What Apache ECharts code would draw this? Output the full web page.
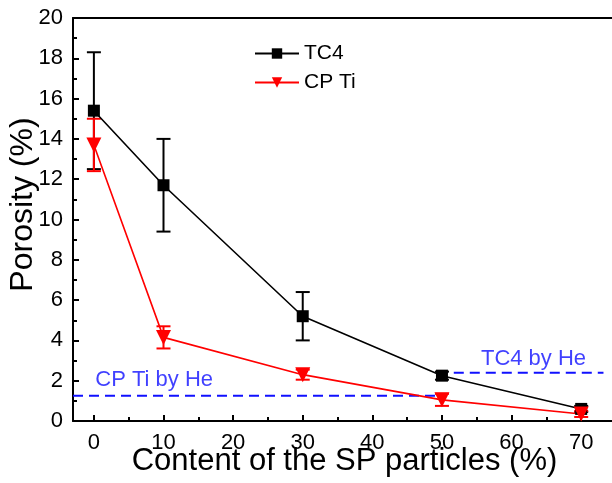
<!DOCTYPE html>
<html><head><meta charset="utf-8">
<script src="https://cdn.jsdelivr.net/npm/echarts@6/dist/echarts.min.js"></script>
<style>html,body{margin:0;padding:0;background:#fff}#c{width:612px;height:483px}</style>
</head><body><div id="c"></div>
<script>
var contents = [0, 10, 30, 50, 70];
var tc4 = [15.4, 11.7, 5.2, 2.25, 0.6];
var tc4Err = [2.9, 2.3, 1.2, 0.2, 0.15];
var cpTi = [13.7, 4.15, 2.3, 1.05, 0.35];
var cpTiErr = [1.3, 0.55, 0.25, 0.3, 0.15];
var xTicks = [0, 10, 20, 30, 40, 50, 60, 70];
var xMinorTicks = [5, 15, 25, 35, 45, 55, 65];
var cpHeLevel = 1.25, tc4HeLevel = 2.4;
var cpHeSpan = [-3, 49.4], tc4HeSpan = [49.4, 73.2];
var notes = [
  {name: 'CP Ti by He', value: [0.2, 2.05]},
  {name: 'TC4 by He', value: [55.6, 3.1]}
];

var FONT = 'Liberation Sans, Arial, sans-serif';
function pairs(xs, ys){ return xs.map(function(x,i){ return [x, ys[i]]; }); }
function errData(xs, ys, es){ return xs.map(function(x,i){ return [x, ys[i]-es[i], ys[i]+es[i]]; }); }
function errSeries(data, color, capW){
  return {
    type: 'custom', xAxisIndex: 0, yAxisIndex: 0, silent: true,
    data: data, encode: {x: 0, y: [1, 2]},
    renderItem: function(params, api){
      var x = api.value(0);
      var top = api.coord([x, api.value(2)]);
      var bot = api.coord([x, api.value(1)]);
      var st = {stroke: color, lineWidth: 2};
      return {type: 'group', children: [
        {type: 'line', shape: {x1: top[0], y1: top[1], x2: bot[0], y2: bot[1]}, style: st},
        {type: 'line', shape: {x1: top[0]-capW, y1: top[1], x2: top[0]+capW, y2: top[1]}, style: st},
        {type: 'line', shape: {x1: bot[0]-capW, y1: bot[1], x2: bot[0]+capW, y2: bot[1]}, style: st}
      ]};
    }
  };
}

var chart = echarts.init(document.getElementById('c'), null, {renderer: 'canvas'});
chart.setOption({
  animation: false,
  textStyle: {fontFamily: FONT},
  grid: {left: 73, top: 18, width: 543, height: 403, containLabel: false, outerBoundsMode: 'none'},
  legend: {
    data: ['TC4', 'CP Ti'], orient: 'vertical', left: 249, top: 38,
    itemWidth: 44, itemHeight: 13, itemGap: 8,
    textStyle: {fontSize: 21, color: '#000', fontFamily: FONT}
  },
  xAxis: [
    {
      type: 'value', min: -3, max: 75, position: 'bottom',
      name: 'Content of the SP particles (%)', nameLocation: 'middle', nameGap: 25,
      nameMoveOverlap: false,
      nameTextStyle: {fontSize: 31, color: '#000', fontFamily: FONT},
      axisLine: {onZero: false, lineStyle: {color: '#000', width: 2}},
      axisTick: {inside: true, length: 6, customValues: xTicks, lineStyle: {color: '#000', width: 2}},
      axisLabel: {customValues: xTicks, fontSize: 22, color: '#000', margin: 11, fontFamily: FONT},
      splitLine: {show: false}
    },
    {
      type: 'value', min: -3, max: 75, position: 'bottom',
      axisLine: {show: false, onZero: false},
      axisTick: {inside: true, length: 4, customValues: xMinorTicks, lineStyle: {color: '#000', width: 2}},
      axisLabel: {show: false}, splitLine: {show: false}
    },
    {
      type: 'value', min: -3, max: 75, position: 'top',
      axisLine: {onZero: false, lineStyle: {color: '#000', width: 2}},
      axisTick: {show: false}, axisLabel: {show: false}, splitLine: {show: false}
    }
  ],
  yAxis: {
    type: 'value', min: 0, max: 20, interval: 2,
    name: 'Porosity (%)', nameLocation: 'middle', nameGap: 34,
    nameMoveOverlap: false,
    nameTextStyle: {fontSize: 32, color: '#000', fontFamily: FONT, padding: [0, 0, 0, 30]},
    axisLine: {onZero: false, lineStyle: {color: '#000', width: 2}},
    axisTick: {inside: true, length: 6, lineStyle: {color: '#000', width: 2}},
    minorTick: {show: true, splitNumber: 2, length: 4, lineStyle: {color: '#000', width: 2}},
    axisLabel: {fontSize: 22, color: '#000', margin: 10, fontFamily: FONT},
    splitLine: {show: false}
  },
  series: [
    {
      name: 'CP Ti by He', type: 'line', silent: true, symbol: 'none',
      data: [[cpHeSpan[0], cpHeLevel], [cpHeSpan[1], cpHeLevel]],
      lineStyle: {color: '#1010ff', width: 2, type: [10, 6]}
    },
    {
      name: 'TC4 by He', type: 'line', silent: true, symbol: 'none',
      data: [[tc4HeSpan[0], tc4HeLevel], [tc4HeSpan[1], tc4HeLevel]],
      lineStyle: {color: '#1010ff', width: 2, type: [10, 6]}
    },
    {
      type: 'scatter', silent: true, symbolSize: 0, data: notes,
      label: {show: true, position: 'right', distance: 0, formatter: '{b}', fontSize: 22, color: '#1010ff', fontFamily: FONT}
    },
    errSeries(errData(contents, tc4, tc4Err), '#000', 7),
    {
      name: 'TC4', type: 'line', data: pairs(contents, tc4),
      symbol: 'rect', symbolSize: 12,
      lineStyle: {color: '#000', width: 1.6}, itemStyle: {color: '#000'}
    },
    errSeries(errData(contents, cpTi, cpTiErr), '#ff0000', 7),
    {
      name: 'CP Ti', type: 'line', data: pairs(contents, cpTi),
      symbol: 'triangle', symbolRotate: 180, symbolSize: 15,
      lineStyle: {color: '#ff0000', width: 1.6}, itemStyle: {color: '#ff0000'}
    }
  ]
});
</script></body></html>
